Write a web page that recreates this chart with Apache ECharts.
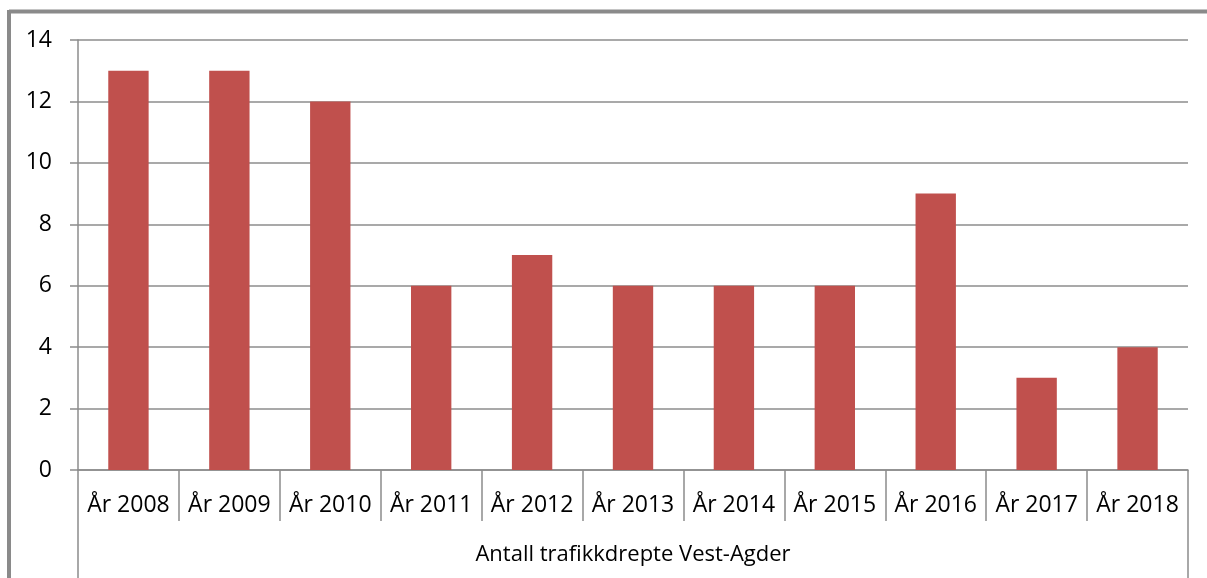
<!DOCTYPE html>
<html>
<head>
<meta charset="utf-8">
<script src="https://cdn.jsdelivr.net/npm/echarts@6/dist/echarts.min.js"></script>
<style>
html,body{margin:0;padding:0;background:#fff;}
#main{width:1207px;height:578px;}
</style>
</head>
<body>
<div id="main"></div>
<script>
const categories = ['År 2008','År 2009','År 2010','År 2011','År 2012','År 2013','År 2014','År 2015','År 2016','År 2017','År 2018'];
const values = [13, 13, 12, 6, 7, 6, 6, 6, 9, 3, 4];
const groupLabel = ['Antall trafikkdrepte Vest-Agder'];

const FONT = '"Open Sans", Lato, sans-serif';
const GRID = '#8c8c8c';
const chart = echarts.init(document.getElementById('main'), null, {renderer: 'canvas'});
chart.setOption({
  animation: false,
  backgroundColor: '#fff',
  grid: {left: 78, right: 19, top: 40, bottom: 108, containLabel: false},
  graphic: [
    {type: 'line', shape: {x1: 9, y1: 11.5, x2: 1207, y2: 11.5}, style: {stroke: '#8a8a8a', lineWidth: 4}},
    {type: 'line', shape: {x1: 9, y1: 10, x2: 9, y2: 578}, style: {stroke: '#8a8a8a', lineWidth: 4}}
  ],
  xAxis: [
    {
      type: 'category',
      data: categories,
      position: 'bottom',
      boundaryGap: true,
      axisLine: {show: true, lineStyle: {color: GRID, width: 1.5}},
      axisTick: {show: true, alignWithLabel: false, interval: 0, length: 51, lineStyle: {color: GRID, width: 1.5}},
      axisLabel: {interval: 0, margin: 35, verticalAlign: 'middle', color: '#000', fontSize: 23, fontFamily: FONT},
      splitLine: {show: false}
    },
    {
      type: 'category',
      data: groupLabel,
      position: 'bottom',
      boundaryGap: true,
      axisLine: {show: false},
      axisTick: {show: true, interval: 0, length: 108, lineStyle: {color: GRID, width: 1.5}},
      axisLabel: {interval: 0, margin: 85, verticalAlign: 'middle', color: '#000', fontSize: 22, fontFamily: FONT},
      splitLine: {show: false}
    }
  ],
  yAxis: {
    type: 'value',
    min: 0, max: 14, interval: 2,
    axisLine: {show: true, lineStyle: {color: GRID, width: 1.5}},
    axisTick: {show: true, length: 8, lineStyle: {color: GRID, width: 1.5}},
    axisLabel: {margin: 26, color: '#000', fontSize: 23, fontFamily: FONT},
    splitLine: {show: true, lineStyle: {color: GRID, width: 1.5}}
  },
  series: [{
    type: 'bar',
    data: values,
    xAxisIndex: 0,
    barWidth: '40%',
    itemStyle: {color: '#C0504D'}
  }]
});
</script>
</body>
</html>
